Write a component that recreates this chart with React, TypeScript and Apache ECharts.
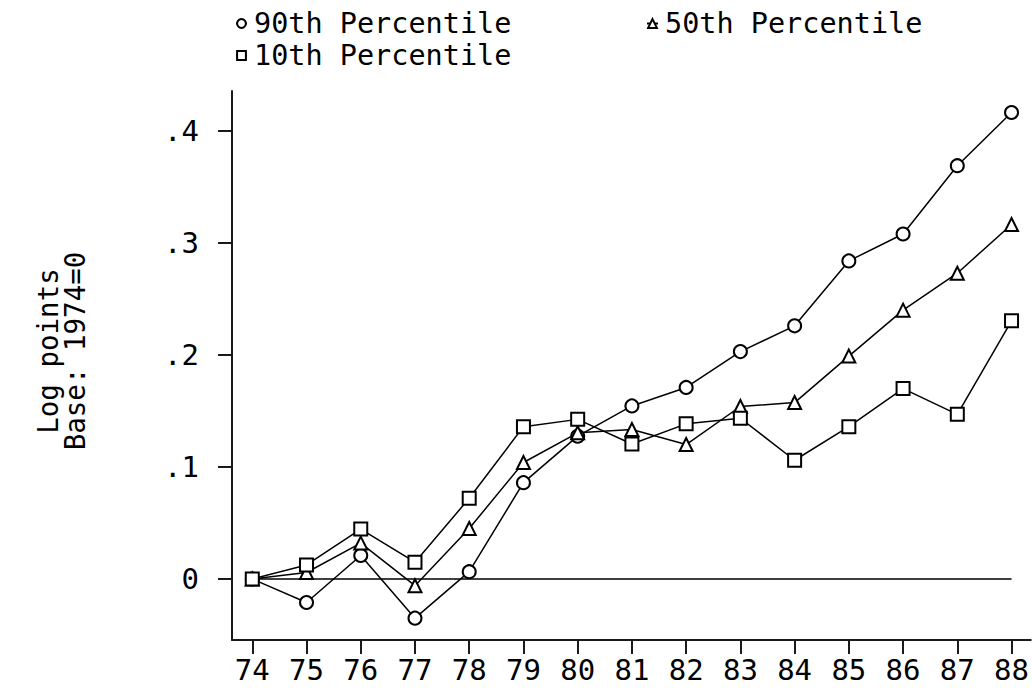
import React, { useEffect, useRef } from "react";
import * as echarts from "echarts";

const years = [74, 75, 76, 77, 78, 79, 80, 81, 82, 83, 84, 85, 86, 87, 88];
const p90 = [0, -0.021, 0.021, -0.035, 0.0065, 0.086, 0.1275, 0.1545, 0.171, 0.203, 0.226, 0.284, 0.308, 0.369, 0.4165];
const p50 = [0, 0.0058, 0.032, -0.006, 0.045, 0.104, 0.1305, 0.1335, 0.12, 0.154, 0.1575, 0.199, 0.24, 0.273, 0.3165];
const p10 = [0, 0.0125, 0.0445, 0.015, 0.072, 0.136, 0.1425, 0.1205, 0.1385, 0.1435, 0.106, 0.136, 0.17, 0.147, 0.2305];
const baseline = [0, 0, 0, 0, 0, 0, 0, 0, 0, 0, 0, 0, 0, 0, 0];
const yTicks = [0, 0.1, 0.2, 0.3, 0.4];
const seriesNames = ["90th Percentile", "50th Percentile", "10th Percentile"];
const yTitle = "Log points\nBase: 1974=0";

const FONT = "'DejaVu Sans Mono', 'Liberation Mono', monospace";

export default function App() {
  const ref = useRef<HTMLDivElement>(null);
  useEffect(() => {
    if (!ref.current) return;
    const chart = echarts.init(ref.current, null, { renderer: "svg" });
    const mk = (name: string, vals: number[], symbol: string) => ({
      name,
      type: "line",
      data: years.map((y, i) => [y, vals[i]]),
      symbol,
      symbolSize: 13,
      showAllSymbol: true,
      lineStyle: { color: "#000", width: 1.5 },
      itemStyle: { color: "#000", borderColor: "#000", borderWidth: 1.5 },
      z: 3,
    });
    const legendBase = {
      orient: "horizontal",
      itemWidth: 11,
      itemHeight: 11,
      selectedMode: false,
      textStyle: { fontFamily: FONT, fontSize: 28.5, color: "#000", padding: [0, 0, 0, 2] },
      itemStyle: { borderWidth: 1.2 },
    };
    chart.setOption({
      animation: false,
      backgroundColor: "#fff",
      grid: { left: 232, top: 91, right: 0, bottom: 53, containLabel: false },
      legend: [
        { ...legendBase, data: [seriesNames[0]], left: 230, top: 4 },
        { ...legendBase, data: [seriesNames[1]], left: 641, top: 4 },
        { ...legendBase, data: [seriesNames[2]], left: 230, top: 36 },
      ],
      xAxis: {
        type: "value",
        min: 73.626,
        max: 88.355,
        axisLine: { show: true, onZero: false, lineStyle: { color: "#1a1a1a", width: 2 } },
        axisTick: { show: true, customValues: years, length: 14, lineStyle: { color: "#1a1a1a", width: 2 } },
        axisLabel: {
          customValues: years,
          formatter: (v: number) => String(v),
          fontFamily: FONT,
          fontSize: 29,
          color: "#000",
          margin: 15,
        },
        splitLine: { show: false },
      },
      yAxis: {
        type: "value",
        min: -0.0545,
        max: 0.4357,
        axisLine: { show: true, onZero: false, lineStyle: { color: "#1a1a1a", width: 2 } },
        axisTick: { show: true, customValues: yTicks, length: 14, lineStyle: { color: "#1a1a1a", width: 2 } },
        axisLabel: {
          customValues: yTicks,
          formatter: (v: number) => (v === 0 ? "0" : String(v).replace(/^0\./, ".")),
          fontFamily: FONT,
          fontSize: 29,
          color: "#000",
          margin: 33,
        },
        splitLine: { show: false },
      },
      series: [
        {
          name: "baseline",
          type: "line",
          data: years.map((y, i) => [y, baseline[i]]),
          symbol: "none",
          lineStyle: { color: "#000", width: 1.5 },
          z: 2,
          silent: true,
        },
        mk(seriesNames[0], p90, "emptyCircle"),
        mk(seriesNames[1], p50, "emptyTriangle"),
        mk(seriesNames[2], p10, "emptyRect"),
      ],
    });
    // y-axis ticks, positioned through the axis scale
    const pys = yTicks.map((v) => chart.convertToPixel({ yAxisIndex: 0 }, v) as number);
    const tickLines = pys.map((py) => ({
      type: "line",
      shape: { x1: 218, y1: py, x2: 232, y2: py },
      style: { stroke: "#1a1a1a", lineWidth: 2 },
      silent: true,
    }));
    chart.setOption({
      graphic: [
        {
          type: "text",
          x: 61,
          y: 351,
          rotation: Math.PI / 2,
          style: {
            text: yTitle,
            fontFamily: FONT,
            fontSize: 27.5,
            fill: "#000",
            align: "center",
            verticalAlign: "middle",
            lineHeight: 27,
          },
        },
        ...tickLines,
      ],
    });
    return () => chart.dispose();
  }, []);
  return (
    <div
      ref={ref}
      style={{ position: "fixed", left: 0, top: 0, width: 1032, height: 693, background: "#fff" }}
    />
  );
}
